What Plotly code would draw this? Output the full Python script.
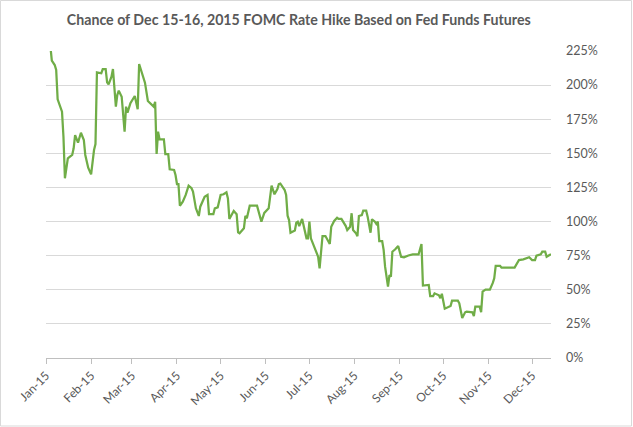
import plotly.graph_objects as go

dates = [
    "2015-01-02", "2015-01-05", "2015-01-07", "2015-01-08", "2015-01-09", "2015-01-10",
    "2015-01-12", "2015-01-13", "2015-01-14", "2015-01-16", "2015-01-19", "2015-01-20",
    "2015-01-21", "2015-01-23", "2015-01-25", "2015-01-27", "2015-01-28", "2015-01-30",
    "2015-02-01", "2015-02-03", "2015-02-04", "2015-02-05", "2015-02-08", "2015-02-09",
    "2015-02-11", "2015-02-12", "2015-02-13", "2015-02-15", "2015-02-16", "2015-02-18",
    "2015-02-19", "2015-02-20", "2015-02-22", "2015-02-24", "2015-02-25", "2015-02-26",
    "2015-02-28", "2015-03-03", "2015-03-04", "2015-03-05", "2015-03-06", "2015-03-07",
    "2015-03-08", "2015-03-10", "2015-03-12", "2015-03-14", "2015-03-16", "2015-03-17",
    "2015-03-18", "2015-03-19", "2015-03-20", "2015-03-23", "2015-03-24", "2015-03-26",
    "2015-03-27", "2015-03-30", "2015-03-31", "2015-04-01", "2015-04-02", "2015-04-03",
    "2015-04-05", "2015-04-07", "2015-04-09", "2015-04-11", "2015-04-12", "2015-04-14",
    "2015-04-16", "2015-04-17", "2015-04-18", "2015-04-20", "2015-04-22", "2015-04-23",
    "2015-04-26", "2015-04-27", "2015-04-29", "2015-05-01", "2015-05-03", "2015-05-05",
    "2015-05-06", "2015-05-07", "2015-05-10", "2015-05-12", "2015-05-13", "2015-05-14",
    "2015-05-17", "2015-05-18", "2015-05-19", "2015-05-21", "2015-05-26", "2015-05-29",
    "2015-05-31", "2015-06-02", "2015-06-03", "2015-06-05", "2015-06-06", "2015-06-07",
    "2015-06-09", "2015-06-10", "2015-06-11", "2015-06-14", "2015-06-15", "2015-06-16",
    "2015-06-17", "2015-06-18", "2015-06-21", "2015-06-22", "2015-06-23", "2015-06-24",
    "2015-06-26", "2015-06-27", "2015-06-29", "2015-06-30", "2015-07-01", "2015-07-02",
    "2015-07-03", "2015-07-05", "2015-07-07", "2015-07-08", "2015-07-09", "2015-07-10",
    "2015-07-12", "2015-07-13", "2015-07-15", "2015-07-16", "2015-07-18", "2015-07-20",
    "2015-07-21", "2015-07-23", "2015-07-26", "2015-07-27", "2015-07-29", "2015-07-30",
    "2015-07-31", "2015-08-02", "2015-08-03", "2015-08-04", "2015-08-06", "2015-08-07",
    "2015-08-09", "2015-08-10", "2015-08-12", "2015-08-13", "2015-08-15", "2015-08-16",
    "2015-08-17", "2015-08-18", "2015-08-20", "2015-08-21", "2015-08-22", "2015-08-24",
    "2015-08-25", "2015-08-26", "2015-08-27", "2015-08-29", "2015-08-31", "2015-09-02",
    "2015-09-04", "2015-09-07", "2015-09-10", "2015-09-14", "2015-09-15", "2015-09-16",
    "2015-09-17", "2015-09-21", "2015-09-22", "2015-09-24", "2015-09-25", "2015-09-28",
    "2015-09-29", "2015-09-30", "2015-10-02", "2015-10-04", "2015-10-06", "2015-10-07",
    "2015-10-11", "2015-10-12", "2015-10-14", "2015-10-16", "2015-10-17", "2015-10-21",
    "2015-10-22", "2015-10-23", "2015-10-26", "2015-10-27", "2015-10-28", "2015-10-30",
    "2015-11-02", "2015-11-04", "2015-11-05", "2015-11-06", "2015-11-09", "2015-11-10",
    "2015-11-19", "2015-11-22", "2015-11-25", "2015-11-29", "2015-12-01", "2015-12-03",
    "2015-12-04", "2015-12-07", "2015-12-08", "2015-12-10", "2015-12-11", "2015-12-13",
    "2015-12-14",
]

chance_pct = [
    250.0, 217.9, 214.7, 211.1, 189.6, 186.7,
    180.5, 162.2, 131.7, 146.4, 148.8, 153.7,
    163.4, 157.8, 165.1, 159.8, 148.8, 139.5,
    134.6, 152.4, 156.8, 209.4, 208.7, 211.8,
    211.8, 202.1, 200.6, 206.2, 211.8, 184.2,
    192.8, 195.9, 191.5, 165.9, 184.2, 179.8,
    186.7, 192.0, 186.7, 182.3, 215.5, 212.3,
    209.4, 201.8, 188.4, 185.9, 184.2, 187.8,
    149.5, 165.9, 160.3, 160.3, 149.5, 149.5,
    138.3, 137.8, 134.1, 127.5, 127.5, 111.6,
    114.6, 119.5, 126.3, 124.4, 121.9, 109.7,
    104.1, 110.9, 113.8, 118.2, 119.5, 105.5,
    105.5, 109.7, 110.4, 119.5, 120.0, 121.4,
    117.0, 101.9, 107.7, 105.3, 92.1, 91.4,
    95.1, 104.1, 102.4, 111.6, 111.6, 99.9,
    106.3, 108.1, 109.7, 126.3, 123.5, 120.0,
    123.9, 127.5, 127.9, 123.1, 119.5, 104.3,
    101.1, 91.8, 93.4, 99.2, 99.9, 96.7,
    101.9, 97.5, 87.7, 87.7, 99.9, 87.7,
    85.2, 80.4, 74.2, 65.7, 79.2, 89.4,
    89.4, 87.7, 83.6, 96.2, 100.4, 102.8,
    101.9, 101.9, 96.7, 93.8, 96.2, 106.1,
    93.8, 91.4, 89.2, 104.1, 104.8, 108.0,
    108.0, 103.6, 91.8, 101.7, 99.9, 98.2,
    99.9, 85.7, 85.7, 79.2, 66.9, 52.3,
    60.8, 59.6, 77.9, 79.7, 82.1, 74.2,
    73.8, 75.1, 75.9, 75.9, 79.5, 83.6,
    53.1, 53.5, 45.4, 45.4, 47.4, 46.0,
    43.8, 47.1, 36.1, 36.9, 38.1, 42.0,
    42.0, 40.1, 29.3, 33.5, 33.9, 33.5,
    30.8, 37.6, 37.6, 33.5, 48.6, 50.1,
    50.1, 55.0, 58.4, 67.6, 67.6, 66.2,
    66.2, 71.8, 72.3, 73.8, 71.8, 71.8,
    75.0, 76.0, 77.9, 77.9, 74.2, 75.5,
    76.0,
]

title_text = "Chance of Dec 15-16, 2015 FOMC Rate Hike Based on Fed Funds Futures"
y_ticks = [0, 25, 50, 75, 100, 125, 150, 175, 200, 225]

FONT = "Lato"
TXT = "#595959"

fig = go.Figure()
fig.add_trace(go.Scatter(
    x=dates, y=chance_pct, mode="lines",
    line=dict(color="#70AD47", width=2.25),
    showlegend=False,
))

fig.update_layout(
    width=633, height=427,
    margin=dict(l=46, r=82, t=51, b=69),
    paper_bgcolor="white", plot_bgcolor="white",
    title=dict(
        text="<b>" + title_text + "</b>",
        font=dict(family=FONT, size=14.2, color=TXT),
        x=0.472, xanchor="center", xref="container",
        y=0.953, yanchor="middle", yref="container",
    ),
    xaxis=dict(
        type="date",
        range=["2015-01-01", "2015-12-14"],
        tick0="2015-01-01", dtick="M1", tickformat="%b-%y",
        tickangle=-45,
        showgrid=False, zeroline=False,
        showline=True, linecolor="#BFBFBF", linewidth=1,
        ticks="outside", ticklen=5, tickcolor="#BFBFBF",
        tickfont=dict(family=FONT, size=12, color=TXT),
    ),
    yaxis=dict(
        side="right",
        range=[0, 225],
        tickvals=y_ticks, ticktext=[f"{v}%" for v in y_ticks],
        showgrid=True, gridcolor="#D9D9D9", gridwidth=1,
        zeroline=False, showline=False, ticks="",
        ticklabelstandoff=14,
        tickfont=dict(family=FONT, size=12.5, color=TXT),
    ),
    shapes=[dict(
        type="rect", xref="paper", yref="paper",
        x0=(0.5 - 46) / 505, x1=(631.5 - 46) / 505,
        y0=(358 - 426.0) / 307, y1=(358 - 0.5) / 307,
        line=dict(color="#D9D9D9", width=1), fillcolor="rgba(0,0,0,0)",
        layer="below",
    )],
)

fig.write_html(
    "out.html",
    config={"displayModeBar": False},
    post_script="document.body.style.margin='0';",
)
